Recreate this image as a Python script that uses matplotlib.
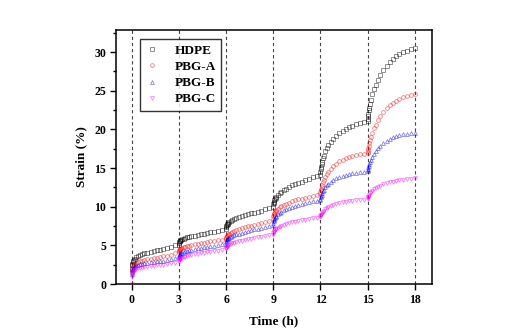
import numpy as np
import matplotlib.pyplot as plt
from matplotlib.ticker import MultipleLocator

plt.rcParams['font.family'] = ['Liberation Serif', 'DejaVu Serif']
plt.rcParams['font.weight'] = 'bold'

# load steps: a new creep stage starts every 3 h
step_starts = [0, 3, 6, 9, 12, 15]
# sampling times inside one stage (h), dense right after loading
offsets = [0, 0.02, 0.04, 0.07, 0.1, 0.15, 0.2, 0.3, 0.4, 0.5, 0.65, 0.8,
           1.0, 1.2, 1.4, 1.6, 1.8, 2.0, 2.25, 2.5, 2.75, 3.0]

# strain (%) per stage
hdpe = [
    [2.0, 2.4, 2.6, 2.8, 2.95, 3.1, 3.25, 3.45, 3.6, 3.7, 3.85, 3.95,
     4.05, 4.15, 4.25, 4.35, 4.45, 4.55, 4.7, 4.85, 5.0, 5.1],
    [5.3, 5.42, 5.5, 5.57, 5.63, 5.71, 5.77, 5.87, 5.95, 6.02, 6.1, 6.18,
     6.27, 6.36, 6.44, 6.52, 6.6, 6.68, 6.78, 6.88, 6.98, 7.1],
    [7.35, 7.5, 7.6, 7.72, 7.8, 7.92, 8.0, 8.15, 8.28, 8.38, 8.52, 8.63,
     8.77, 8.9, 9.02, 9.13, 9.24, 9.35, 9.5, 9.65, 9.8, 9.95],
    [10.3, 10.5, 10.65, 10.82, 10.95, 11.15, 11.3, 11.55, 11.75, 11.92, 12.15, 12.33,
     12.55, 12.75, 12.93, 13.1, 13.26, 13.42, 13.6, 13.78, 13.95, 14.15],
    [14.5, 14.85, 15.15, 15.5, 15.8, 16.25, 16.6, 17.15, 17.6, 17.95, 18.4, 18.75,
     19.15, 19.48, 19.77, 20.02, 20.25, 20.45, 20.66, 20.85, 21.0, 21.15],
    [21.4, 21.75, 22.05, 22.45, 22.8, 23.35, 23.8, 24.55, 25.2, 25.75, 26.45, 27.05,
     27.7, 28.25, 28.72, 29.12, 29.46, 29.75, 29.98, 30.2, 30.38, 30.52],
]
pbg_a = [
    [1.5, 1.8, 2.0, 2.2, 2.35, 2.5, 2.6, 2.75, 2.85, 2.93, 3.02, 3.1,
     3.2, 3.28, 3.35, 3.42, 3.5, 3.57, 3.67, 3.8, 3.95, 4.1],
    [4.25, 4.35, 4.42, 4.48, 4.53, 4.6, 4.66, 4.75, 4.83, 4.9, 4.98, 5.05,
     5.14, 5.22, 5.29, 5.36, 5.43, 5.5, 5.58, 5.66, 5.74, 5.82],
    [5.95, 6.08, 6.17, 6.27, 6.35, 6.45, 6.53, 6.66, 6.77, 6.86, 6.98, 7.08,
     7.2, 7.33, 7.45, 7.56, 7.67, 7.78, 7.93, 8.07, 8.2, 8.35],
    [8.75, 8.92, 9.03, 9.16, 9.27, 9.42, 9.54, 9.74, 9.9, 10.03, 10.21, 10.36,
     10.53, 10.68, 10.81, 10.94, 11.06, 11.17, 11.3, 11.43, 11.55, 11.67],
    [11.9, 12.15, 12.35, 12.6, 12.82, 13.15, 13.42, 13.88, 14.25, 14.55, 14.93, 15.24,
     15.58, 15.86, 16.08, 16.27, 16.43, 16.57, 16.7, 16.8, 16.88, 16.95],
    [17.1, 17.35, 17.6, 17.9, 18.18, 18.6, 18.98, 19.6, 20.15, 20.62, 21.22, 21.72,
     22.28, 22.74, 23.12, 23.45, 23.72, 23.95, 24.15, 24.3, 24.42, 24.52],
]
pbg_b = [
    [1.3, 1.6, 1.8, 1.95, 2.05, 2.2, 2.3, 2.42, 2.5, 2.56, 2.63, 2.7,
     2.77, 2.83, 2.88, 2.93, 2.98, 3.03, 3.12, 3.22, 3.33, 3.45],
    [3.6, 3.7, 3.78, 3.85, 3.9, 3.98, 4.04, 4.13, 4.21, 4.28, 4.37, 4.45,
     4.54, 4.62, 4.7, 4.77, 4.84, 4.9, 4.98, 5.06, 5.14, 5.22],
    [5.45, 5.57, 5.66, 5.76, 5.83, 5.93, 6.01, 6.13, 6.23, 6.32, 6.43, 6.53,
     6.65, 6.76, 6.86, 6.96, 7.06, 7.15, 7.27, 7.39, 7.51, 7.63],
    [7.95, 8.12, 8.24, 8.38, 8.5, 8.66, 8.8, 9.02, 9.2, 9.35, 9.53, 9.68,
     9.86, 10.01, 10.14, 10.26, 10.37, 10.47, 10.59, 10.7, 10.8, 10.9],
    [11.0, 11.2, 11.36, 11.56, 11.73, 11.98, 12.18, 12.5, 12.75, 12.96, 13.22, 13.43,
     13.66, 13.84, 13.99, 14.12, 14.23, 14.32, 14.41, 14.48, 14.54, 14.6],
    [14.7, 14.9, 15.08, 15.3, 15.5, 15.8, 16.05, 16.48, 16.85, 17.15, 17.55, 17.88,
     18.25, 18.54, 18.78, 18.97, 19.12, 19.24, 19.35, 19.43, 19.5, 19.55],
]
pbg_c = [
    [0.05, 0.9, 1.2, 1.45, 1.6, 1.75, 1.85, 1.95, 2.02, 2.07, 2.13, 2.18,
     2.24, 2.3, 2.35, 2.4, 2.45, 2.5, 2.58, 2.68, 2.78, 2.9],
    [3.05, 3.13, 3.19, 3.25, 3.29, 3.35, 3.4, 3.48, 3.55, 3.61, 3.69, 3.76,
     3.84, 3.91, 3.98, 4.04, 4.1, 4.16, 4.24, 4.32, 4.4, 4.48],
    [4.6, 4.7, 4.77, 4.85, 4.91, 4.99, 5.06, 5.16, 5.25, 5.33, 5.43, 5.52,
     5.62, 5.71, 5.8, 5.88, 5.96, 6.04, 6.13, 6.22, 6.31, 6.4],
    [6.55, 6.68, 6.76, 6.86, 6.95, 7.06, 7.15, 7.3, 7.42, 7.52, 7.65, 7.76,
     7.88, 7.99, 8.08, 8.17, 8.25, 8.33, 8.42, 8.5, 8.58, 8.65],
    [8.75, 8.87, 8.96, 9.08, 9.18, 9.33, 9.45, 9.64, 9.8, 9.93, 10.08, 10.2,
     10.35, 10.47, 10.57, 10.65, 10.72, 10.78, 10.84, 10.89, 10.93, 10.97],
    [11.1, 11.22, 11.32, 11.45, 11.56, 11.72, 11.85, 12.06, 12.24, 12.38, 12.56, 12.71,
     12.88, 13.02, 13.14, 13.24, 13.33, 13.41, 13.49, 13.56, 13.62, 13.68],
]

labels = ['HDPE', 'PBG-A', 'PBG-B', 'PBG-C']
colors = ['black', 'red', 'blue', 'magenta']
markers = ['s', 'o', '^', 'v']

fig = plt.figure(figsize=(5.21, 3.34), dpi=100)
ax = fig.add_axes([0.2226, 0.1497, 0.606, 0.7613])

# dashed guides at every load step
for t in step_starts + [18]:
    ax.axvline(t, color='#444444', ls=(0, (3, 2.5)), lw=0.8, zorder=1)

for data, lab, c, m in zip([hdpe, pbg_a, pbg_b, pbg_c], labels, colors, markers):
    t_all = np.concatenate([np.array(offsets) + s for s in step_starts])
    y_all = np.concatenate([np.array(seg) for seg in data])
    ax.plot(t_all, y_all, ls='none', marker=m, ms=2.7, mfc='none',
            mec=c, mew=0.6, alpha=0.5, label=lab, zorder=3)

ax.set_xlim(-1, 19.07)
ax.set_ylim(0, 32.9)
ax.set_xticks([0, 3, 6, 9, 12, 15, 18])
ax.yaxis.set_major_locator(MultipleLocator(5))
ax.yaxis.set_minor_locator(MultipleLocator(2.5))
ax.tick_params(axis='both', which='major', direction='out', length=4, width=1,
               labelsize=8.5, pad=3)
ax.tick_params(axis='y', which='minor', direction='out', length=2, width=1)
for lbl in ax.get_xticklabels() + ax.get_yticklabels():
    lbl.set_fontweight('bold')
for sp in ax.spines.values():
    sp.set_linewidth(1.1)

ax.set_xlabel('Time (h)', fontsize=9.5, fontweight='bold', labelpad=7)
ax.set_ylabel('Strain (%)', fontsize=9.5, fontweight='bold', labelpad=5)

leg = ax.legend(loc='upper left', bbox_to_anchor=(0.076, 0.962), borderaxespad=0,
                frameon=True, fancybox=False, edgecolor='black', handlelength=1.0,
                handletextpad=1.2, borderpad=0.4, labelspacing=0.3,
                prop={'weight': 'bold', 'size': 9.5})
leg.get_frame().set_linewidth(1.0)

fig.savefig('out.png', dpi=100)
